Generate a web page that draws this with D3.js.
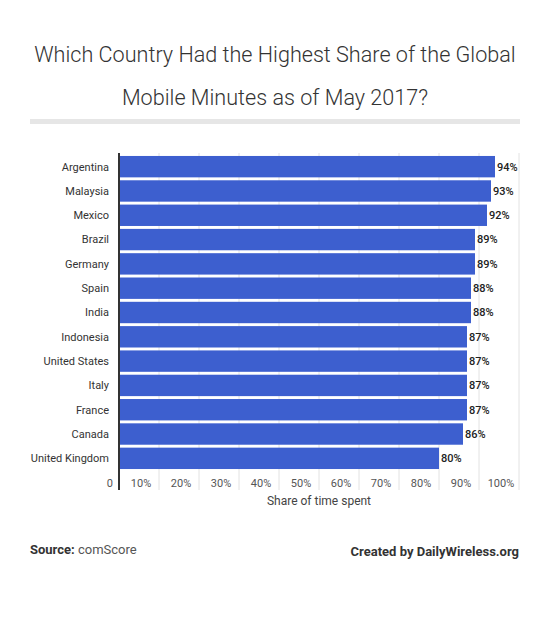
<!DOCTYPE html>
<html>
<head>
<meta charset="utf-8">
<script src="https://cdn.jsdelivr.net/npm/d3@7"></script>
<style>
  body { margin: 0; background: #fff; }
  text { font-family: Roboto, "Noto Sans", sans-serif; }
</style>
</head>
<body>
<div id="chart"></div>
<script>
const countries = ["Argentina", "Malaysia", "Mexico", "Brazil", "Germany", "Spain", "India",
    "Indonesia", "United States", "Italy", "France", "Canada", "United Kingdom"];
const shares = [94, 93, 92, 89, 89, 88, 88, 87, 87, 87, 87, 86, 80];
const tickValues = [10, 20, 30, 40, 50, 60, 70, 80, 90, 100];

const width = 550,
    height = 617;

const svg = d3.select("#chart")
    .append("svg")
    .attr("width", width)
    .attr("height", height);

// Title
const title = svg.append("text")
    .attr("text-anchor", "middle")
    .attr("fill", "#333")
    .style("font-size", "21.6px")
    .style("font-weight", 300);
title.append("tspan").attr("x", 275).attr("y", 62)
    .text("Which Country Had the Highest Share of the Global");
title.append("tspan").attr("x", 275).attr("y", 105)
    .text("Mobile Minutes as of May 2017?");

// Divider under title
svg.append("rect")
    .attr("x", 30).attr("y", 119)
    .attr("width", 490).attr("height", 5)
    .attr("fill", "#e6e6e6");

// Scales
const x = d3.scaleLinear()
    .domain([0, 100])
    .range([119, 519]);

const y = d3.scaleBand()
    .domain(countries)
    .range([155, 470])
    .paddingInner(0.12)
    .paddingOuter(0.04);

// Gridlines
svg.append("g")
    .selectAll("line")
    .data(tickValues)
    .join("line")
    .attr("x1", d => x(d)).attr("x2", d => x(d))
    .attr("y1", 153).attr("y2", 490)
    .attr("stroke", "#e2e2e2")
    .attr("stroke-width", 1);

// Bars
svg.append("g")
    .selectAll("rect")
    .data(countries)
    .join("rect")
    .attr("x", x(0))
    .attr("y", d => y(d))
    .attr("width", (d, i) => x(shares[i]) - x(0))
    .attr("height", y.bandwidth())
    .attr("fill", "#3d5fcf");

// Value labels
svg.append("g")
    .selectAll("text")
    .data(countries)
    .join("text")
    .attr("x", (d, i) => x(shares[i]) + 2)
    .attr("y", d => y(d) + y.bandwidth() / 2)
    .attr("dy", "0.35em")
    .attr("fill", "#222")
    .style("font-size", "11px")
    .style("font-weight", 500)
    .text((d, i) => shares[i] + "%");

// Country labels
svg.append("g")
    .selectAll("text")
    .data(countries)
    .join("text")
    .attr("x", 109)
    .attr("y", d => y(d) + y.bandwidth() / 2)
    .attr("dy", "0.35em")
    .attr("text-anchor", "end")
    .attr("fill", "#333")
    .style("font-size", "11px")
    .text(d => d);

// Axis line
svg.append("line")
    .attr("x1", x(0)).attr("x2", x(0))
    .attr("y1", 153).attr("y2", 490)
    .attr("stroke", "#333")
    .attr("stroke-width", 2);

// Tick labels (centred between gridlines)
const tickG = svg.append("g")
    .style("font-size", "11px")
    .attr("fill", "#555");
tickG.append("text")
    .attr("x", x(0) - 6).attr("y", 487)
    .attr("text-anchor", "end")
    .text("0");
tickG.selectAll("text.tick")
    .data(tickValues)
    .join("text")
    .attr("class", "tick")
    .attr("x", d => x(d - 5) + 2)
    .attr("y", 487)
    .attr("text-anchor", "middle")
    .text(d => d + "%");

// Axis title
svg.append("text")
    .attr("x", x(50)).attr("y", 505)
    .attr("text-anchor", "middle")
    .attr("fill", "#444")
    .style("font-size", "12px")
    .text("Share of time spent");

// Footer
const src = svg.append("text")
    .attr("x", 30).attr("y", 554)
    .attr("fill", "#333")
    .style("font-size", "13px");
src.append("tspan").style("font-weight", 700).text("Source: ");
src.append("tspan").attr("fill", "#555").text("comScore");

svg.append("text")
    .attr("x", 519).attr("y", 556)
    .attr("text-anchor", "end")
    .attr("fill", "#333")
    .style("font-size", "13px")
    .style("font-weight", 700)
    .text("Created by DailyWireless.org");
</script>
</body>
</html>
